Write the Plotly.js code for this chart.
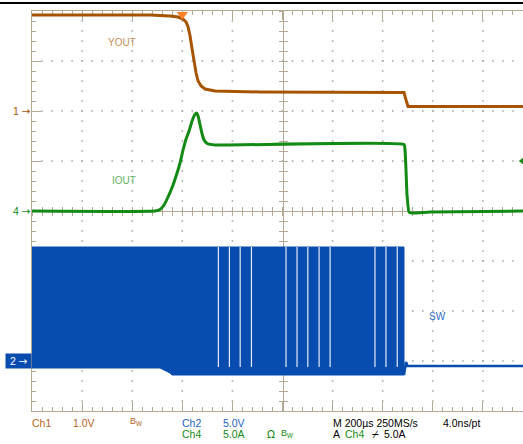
<!DOCTYPE html>
<html><head><meta charset="utf-8">
<script src="https://cdn.plot.ly/plotly-3.0.1.min.js"></script>
<style>html,body{margin:0;padding:0;background:#fff}#wrap{position:relative;width:523px;height:444px}#chart{width:523px;height:444px}#topline{position:absolute;left:0;top:2px;width:523px;height:2px;background:#000;z-index:5}</style>
</head><body><div id="wrap"><div id="chart"></div><div id="topline"></div></div>
<script>
// ---- data (time in µs, 200 µs/div) ----
const youtTime  = [0, 471, 551, 583, 603, 615, 623, 631, 639, 647, 655, 663, 675, 691, 731, 910, 1485, 1493, 1501, 1960];
const youtVolts = [1.92, 1.92, 1.90, 1.88, 1.84, 1.78, 1.68, 1.50, 1.24, 0.98, 0.76, 0.60, 0.50, 0.44, 0.40, 0.38, 0.37, 0.22, 0.09, 0.09];

const ioutTime = [0, 491, 511, 527, 543, 563, 579, 591, 603, 615, 627, 639, 649, 657, 663, 671, 679, 687, 699, 731, 1485, 1489, 1493, 1497, 1505, 1517, 1589, 1960];
const ioutAmps = [0, 0, 0.15, 0.6, 1.4, 2.6, 3.8, 4.8, 6.1, 7.2, 8.0, 9.0, 9.6, 9.8, 9.5, 8.6, 7.7, 7.1, 6.75, 6.6, 6.65, 6.1, 4.1, 1.6, -0.1, -0.2, -0.1, 0];

const swEnvTime = [0, 511, 551, 559, 1485];
const swEnvHigh = [11.4, 11.4, 11.4, 11.4, 11.4];
const swEnvLow  = [-0.7, -0.7, -1.2, -1.4, -1.4];
const swGapTime = [744, 788, 831, 876, 1014, 1058, 1101, 1146, 1190, 1369, 1413, 1458];
const swGapLow  = -0.6;
const swTailTime  = [1485, 1489, 1493, 1499, 1960];
const swTailVolts = [-1.4, -0.9, -0.1, -0.5, -0.5];

const triggerTime = 600;   // µs
const triggerLevel = 5.0;  // A on Ch4

// ---- channel settings (units/div, ground offset in div) ----
const ch1 = {scale: 1.0, offset: 2};
const ch2 = {scale: 5.0, offset: -3};
const ch4 = {scale: 5.0, offset: 0};
const toDiv = (ch, arr) => arr.map(v => v == null ? null : v / ch.scale + ch.offset);

const cBrown = '#A65400', cGreen = '#138A13', cBlue = '#084CAF';
const frame = '#B4AA94';

const XR = [0, 1960], YR = [-4, 4];

// dotted graticule (dots every minor division along each major grid line)
const dotX = [], dotY = [];
for (let k = 1; k <= 9; k++) { if (k === 5) continue; for (let j = 1; j < 40; j++) { dotX.push(k * 200); dotY.push(-4 + j * 0.2); } }
for (let r = -3; r <= 3; r++) { if (r === 0) continue; for (let j = 1; j * 40 < XR[1]; j++) { dotX.push(j * 40); dotY.push(r); } }

const polyX = swEnvTime.concat(swEnvTime.slice().reverse());
const polyY = toDiv(ch2, swEnvHigh.concat(swEnvLow.slice().reverse()));
const gapX = [], gapY = [];
swGapTime.forEach(g => { gapX.push(g, g, null); gapY.push(swEnvHigh[0], swGapLow, null); });

const traces = [
  {x: dotX, y: dotY, mode: 'markers', marker: {symbol: 'square', size: 1.6, color: '#A8A8A8', line: {width: 0}}, hoverinfo: 'skip'},
  {x: polyX, y: polyY, mode: 'lines', fill: 'toself', fillcolor: cBlue, line: {color: cBlue, width: 1}, hoverinfo: 'skip'},
  {x: gapX, y: toDiv(ch2, gapY), mode: 'lines', line: {color: '#E4ECF8', width: 1.2}, hoverinfo: 'skip'},
  {x: swTailTime, y: toDiv(ch2, swTailVolts), mode: 'lines', line: {color: cBlue, width: 2.5}},
  {x: youtTime, y: toDiv(ch1, youtVolts), mode: 'lines', line: {color: cBrown, width: 3}},
  {x: ioutTime, y: toDiv(ch4, ioutAmps), mode: 'lines', line: {color: cGreen, width: 3, shape: 'spline', smoothing: 0.4}},
  {x: [triggerTime], y: [3.93], mode: 'markers', marker: {symbol: 'triangle-down', size: 10, color: '#FF7F2A'}, cliponaxis: false},
  {x: [1957], y: toDiv(ch4, [triggerLevel]), mode: 'markers', marker: {symbol: 'triangle-left', size: 7, color: cGreen}, cliponaxis: false},
  {x: [null], y: [null], xaxis: 'x2', yaxis: 'y', hoverinfo: 'skip'},
  {x: [null], y: [null], xaxis: 'x3', yaxis: 'y', hoverinfo: 'skip'},
  {x: [null], y: [null], xaxis: 'x', yaxis: 'y2', hoverinfo: 'skip'},
  {x: [null], y: [null], xaxis: 'x', yaxis: 'y3', hoverinfo: 'skip'}
];

const centerX = 1000 / 1960;
const centerAxisX = (ticks) => ({overlaying: 'x', anchor: 'free', position: 0.5, range: XR, dtick: 200, tick0: 0,
  showgrid: false, zeroline: false, showticklabels: false, showline: true, linecolor: frame, linewidth: 1,
  ticks: ticks, ticklen: 4, tickcolor: frame, layer: 'below traces',
  minor: {dtick: 40, tick0: 0, ticks: ticks, ticklen: 4, tickcolor: frame, showgrid: false}});
const centerAxisY = (ticks) => ({overlaying: 'y', anchor: 'free', position: centerX, range: YR, dtick: 1, tick0: 0,
  showgrid: false, zeroline: false, showticklabels: false, showline: true, linecolor: frame, linewidth: 1,
  ticks: ticks, ticklen: 4, tickcolor: frame, layer: 'below traces',
  minor: {dtick: 0.2, tick0: 0, ticks: ticks, ticklen: 4, tickcolor: frame, showgrid: false}});

const F = 'Liberation Sans, Arial, sans-serif';
const FA = 'DejaVu Sans, sans-serif';
const px2x = p => (p - 32) / 491, py2y = p => (411 - p) / 400;
const txt = (text, xp, yp, color, size, fam) => ({text: text, x: px2x(xp), y: py2y(yp), xref: 'paper', yref: 'paper',
  xanchor: 'left', yanchor: 'middle', showarrow: false, borderpad: 0, font: {family: fam || F, size: size || 10.5, color: color}});
const r1 = 422.5, r2 = 434;
const chBrown = '#B5651D', chBlue = '#1F5FC0', chGreen = '#158A15';

const marker = (label, y, color, bg) => ({text: label + ' <span style="font-family:DejaVu Sans">→</span>' + (bg ? ' ' : ''),
  x: 0, y: y, xref: 'paper', yref: 'y', xanchor: 'right', yanchor: 'middle', showarrow: false,
  borderpad: bg ? 1 : 0, bgcolor: bg || 'rgba(0,0,0,0)', font: {family: F, size: 10.5, color: color}});

const annotations = [
  txt('Ch1', 31, r1, chBrown), txt('1.0V', 72, r1, chBrown), txt('B<sub>W</sub>', 129, r1 - 1, chBrown, 9),
  txt('Ch2', 181, r1, chBlue), txt('5.0V', 222, r1, chBlue),
  txt('M 200µs 250MS/s', 332, r1, '#000'), txt('4.0ns/pt', 442, r1, '#000'),
  txt('Ch4', 181, r2, chGreen), txt('5.0A', 222, r2, chGreen), txt('Ω', 266, r2, chGreen, 10.5, FA), txt('B<sub>W</sub>', 280, r2 - 1, chGreen, 9),
  txt('A', 332, r2, '#000'), txt('Ch4', 344, r2, chGreen), txt('⌿', 371, r2, '#000', 10.5, FA), txt('5.0A', 383, r2, '#000'),
  {text: 'YOUT', x: 361, y: 3.38, xref: 'x', yref: 'y', showarrow: false, font: {family: F, size: 10, color: '#C39058'}},
  {text: 'IOUT', x: 367, y: 0.61, xref: 'x', yref: 'y', showarrow: false, font: {family: F, size: 10, color: '#5DB35D'}},
  {text: 'SW', x: 1617, y: -2.11, xref: 'x', yref: 'y', showarrow: false, font: {family: F, size: 10, color: '#2F6BC5'}},
  marker('1', ch1.offset, cBrown), marker('4', ch4.offset, cGreen), marker(' 2', ch2.offset, '#fff', cBlue)
];

const layout = {
  width: 523, height: 444, margin: {l: 32, r: 0, t: 11, b: 33},
  paper_bgcolor: '#fff', plot_bgcolor: '#fff', showlegend: false,
  xaxis: {range: XR, dtick: 200, tick0: 0, showgrid: false,
    zeroline: false, showticklabels: false, showline: true, linecolor: frame, linewidth: 1, mirror: 'ticks',
    ticks: 'inside', ticklen: 9, tickcolor: frame, layer: 'below traces',
    minor: {dtick: 40, tick0: 0, ticks: 'inside', ticklen: 4, tickcolor: frame, showgrid: false}},
  yaxis: {range: YR, dtick: 1, tick0: 0, showgrid: false,
    zeroline: false, showticklabels: false, showline: true, linecolor: frame, linewidth: 1, mirror: false,
    ticks: 'inside', ticklen: 9, tickcolor: frame, layer: 'below traces',
    minor: {dtick: 0.2, tick0: 0, ticks: 'inside', ticklen: 4, tickcolor: frame, showgrid: false}},
  xaxis2: centerAxisX('inside'), xaxis3: centerAxisX('outside'),
  yaxis2: centerAxisY('inside'), yaxis3: centerAxisY('outside'),
  annotations: annotations
};

Plotly.newPlot('chart', traces, layout, {displayModeBar: false, staticPlot: true});
</script></body></html>
